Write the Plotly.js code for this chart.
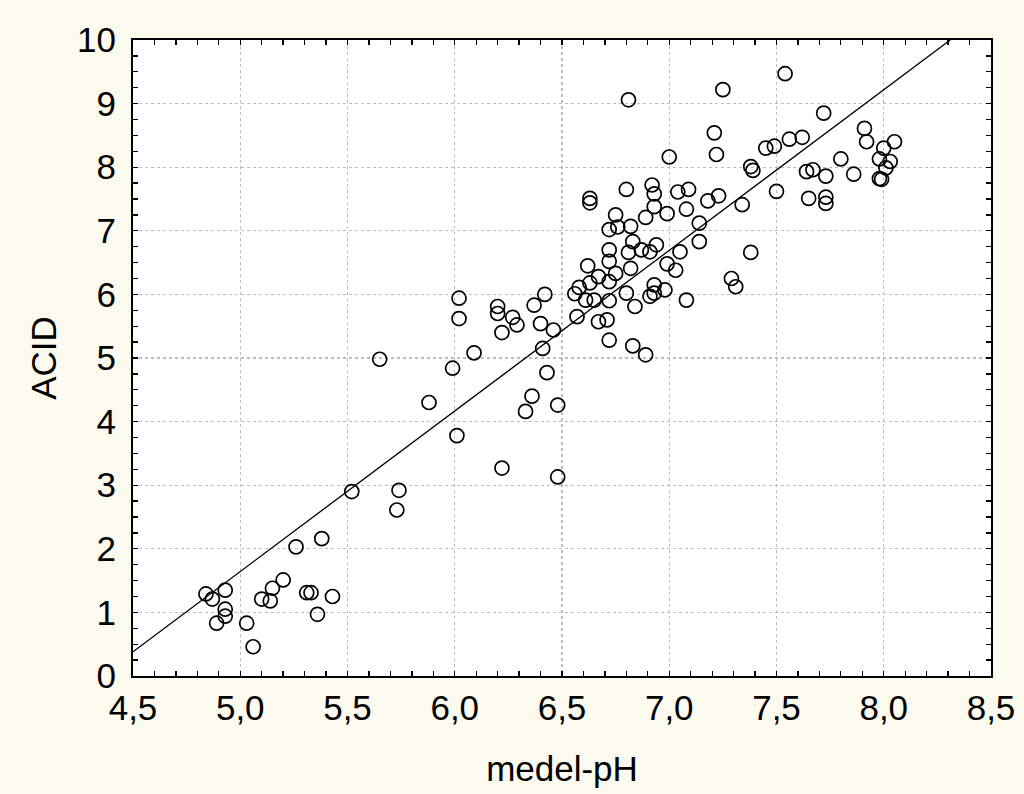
<!DOCTYPE html>
<html>
<head>
<meta charset="utf-8">
<script src="https://cdn.plot.ly/plotly-3.0.1.min.js"></script>
<style>html,body{margin:0;padding:0;background:#fcf9ee;}#chart{width:1024px;height:794px;}</style>
</head>
<body>
<div id="chart"></div>
<script>
// medel-pH values
const medelPH = [
 4.84,4.87,4.93,4.93,4.93,4.89,5.03,5.06,5.10,5.14,5.15,5.20,5.26,5.31,5.33,5.36,5.38,5.43,
 5.52,5.73,5.74,5.65,5.88,5.99,6.01,6.02,6.02,6.09,6.22,6.48,
 6.20,6.20,6.27,6.29,6.22,6.42,6.37,6.40,6.46,6.41,6.43,6.36,6.33,6.48,6.56,6.57,
 6.58,6.61,6.65,6.72,6.67,6.71,6.72,6.83,6.89,6.84,6.80,6.93,6.93,6.91,6.98,7.08,7.29,7.31,
 6.63,6.72,6.67,6.75,6.62,6.72,6.82,6.99,7.03,
 6.72,6.81,6.87,6.94,6.91,7.05,6.83,6.72,6.76,6.82,6.75,6.89,6.99,6.93,7.08,7.14,7.14,
 6.63,6.63,6.80,6.92,6.93,7.04,7.09,7.18,7.23,7.34,7.38,
 6.81,7.00,7.25,7.21,7.22,7.54,7.72,7.45,7.49,7.56,7.62,7.38,7.39,7.50,7.64,7.67,7.73,
 7.65,7.73,7.73,7.80,7.86,7.91,7.92,8.05,8.00,7.98,8.03,8.01,7.98,7.99
];
// ACID values
const acid = [
 1.29,1.21,1.35,1.05,0.94,0.83,0.83,0.46,1.21,1.18,1.38,1.51,2.03,1.31,1.31,0.97,2.16,1.25,
 2.90,2.61,2.92,4.98,4.30,4.84,3.78,5.94,5.62,5.08,3.27,3.13,
 5.81,5.70,5.64,5.52,5.40,6.00,5.83,5.54,5.44,5.15,4.77,4.40,4.16,4.26,6.01,5.65,
 6.11,5.91,5.91,5.90,5.57,5.60,5.28,5.19,5.05,5.81,6.02,6.15,6.02,5.97,6.07,5.91,6.25,6.12,
 6.18,6.20,6.28,6.33,6.45,6.52,6.41,6.48,6.38,
 6.70,6.66,6.70,6.78,6.67,6.67,6.83,7.02,7.06,7.07,7.25,7.21,7.27,7.38,7.34,7.12,6.83,
 7.51,7.44,7.65,7.72,7.58,7.61,7.65,7.47,7.55,7.41,6.66,
 9.06,8.16,9.22,8.54,8.20,9.47,8.85,8.30,8.33,8.44,8.47,8.01,7.95,7.62,7.93,7.96,7.86,
 7.51,7.53,7.43,8.13,7.89,8.61,8.40,8.40,8.30,8.13,8.09,7.99,7.82,7.81
];
// fitted line
const fitX = [4.5, 8.31];
const fitY = [0.38, 10.0];
const xTickVals = [4.5,5.0,5.5,6.0,6.5,7.0,7.5,8.0,8.5];
const yTickVals = [0,1,2,3,4,5,6,7,8,9,10];

const font = "Liberation Sans, Arial, sans-serif";

const traces = [
 {x: fitX, y: fitY, mode: 'lines', type: 'scatter', line: {color: '#000', width: 1.3}, hoverinfo: 'skip'},
 {x: medelPH, y: acid, mode: 'markers', type: 'scatter',
  marker: {symbol: 'circle-open', size: 14, color: '#000', line: {width: 1.7, color: '#000'}}}
];

const axisCommon = {
 showline: true, linecolor: '#000', linewidth: 2, mirror: 'allticks',
 ticks: 'inside', ticklen: 5, tickcolor: '#000', tickwidth: 1.3,
 showgrid: true, gridcolor: '#bdbdbd', griddash: 'dot', gridwidth: 1.3,
 zeroline: false, tickfont: {family: font, size: 35, color: '#000'}
};

const layout = {
 width: 1024, height: 794,
 paper_bgcolor: '#fcf9ee', plot_bgcolor: '#ffffff',
 showlegend: false,
 separators: ', ',
 margin: {l: 133, r: 33, t: 40, b: 118},
 xaxis: Object.assign({}, axisCommon, {
  range: [4.5, 8.5], tickvals: xTickVals, tickformat: '.1f',
  ticklabelstandoff: 0,
  minor: {dtick: 0.1, ticks: 'inside', ticklen: 5, tickcolor: '#000', tickwidth: 1.3, showgrid: false},
  title: {text: 'medel-pH', font: {family: font, size: 35, color: '#000'}, standoff: 30}
 }),
 yaxis: Object.assign({}, axisCommon, {
  range: [0, 10], tickvals: yTickVals,
  ticklabelstandoff: 8,
  minor: {dtick: 0.25, ticks: 'inside', ticklen: 5, tickcolor: '#000', tickwidth: 1.3, showgrid: false},
  title: {text: 'ACID', font: {family: font, size: 35, color: '#000'}, standoff: 10}
 })
};

Plotly.newPlot('chart', traces, layout, {staticPlot: true, displayModeBar: false});
</script>
</body>
</html>
